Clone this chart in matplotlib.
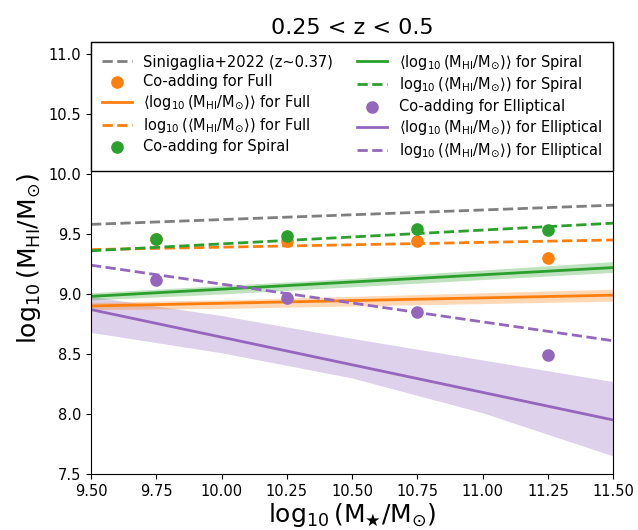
import matplotlib
matplotlib.use("Agg")
import matplotlib.pyplot as plt
import numpy as np

# stellar mass bins (co-adding points)
mass_bins = [9.75, 10.25, 10.75, 11.25]
coadd_full = [9.46, 9.44, 9.44, 9.30]
coadd_spiral = [9.46, 9.48, 9.54, 9.53]
coadd_ellip = [9.12, 8.97, 8.85, 8.49]

# scaling relations, evaluated at the ends of the range
line_x = [9.5, 11.5]
sinigaglia = [9.58, 9.74]
mean_log_full = [8.90, 8.99]
log_mean_full = [9.37, 9.45]
mean_log_spiral = [8.98, 9.22]
log_mean_spiral = [9.36, 9.59]
mean_log_ellip = [8.87, 7.95]
log_mean_ellip = [9.24, 8.61]

# uncertainty bands
band_x = [9.5, 10.0, 10.5, 11.0, 11.5]
full_lo = [8.87, 8.88, 8.90, 8.92, 8.94]
full_hi = [8.93, 8.95, 8.98, 9.01, 9.04]
spiral_lo = [8.95, 9.00, 9.06, 9.12, 9.18]
spiral_hi = [9.01, 9.07, 9.13, 9.20, 9.27]
ellip_lo = [8.68, 8.51, 8.30, 8.01, 7.65]
ellip_hi = [8.98, 8.82, 8.63, 8.45, 8.27]

c_full, c_spiral, c_ellip, c_sini = "#ff7f0e", "#2ca02c", "#9467bd", "#7f7f7f"
M = r"\mathrm{M_{HI}/M_{\odot}}"

fig = plt.figure(figsize=(6.38, 5.30), dpi=100)
ax = fig.add_axes([0.1426, 0.1057, 0.8185, 0.8151])

ax.fill_between(band_x, ellip_lo, ellip_hi, color=c_ellip, alpha=0.3, lw=0)
ax.fill_between(band_x, full_lo, full_hi, color=c_full, alpha=0.3, lw=0)
ax.fill_between(band_x, spiral_lo, spiral_hi, color=c_spiral, alpha=0.3, lw=0)

ax.plot(line_x, sinigaglia, "--", color=c_sini, lw=2, label="Sinigaglia+2022 (z~0.37)")
ax.scatter(mass_bins, coadd_full, s=65, color=c_full, zorder=3, label="Co-adding for Full")
ax.plot(line_x, mean_log_full, "-", color=c_full, lw=2,
        label=r"$\langle\log_{10}(" + M + r")\rangle$ for Full")
ax.plot(line_x, log_mean_full, "--", color=c_full, lw=2,
        label=r"$\log_{10}(\langle " + M + r"\rangle)$ for Full")
ax.scatter(mass_bins, coadd_spiral, s=65, color=c_spiral, zorder=3, label="Co-adding for Spiral")
ax.plot(line_x, mean_log_spiral, "-", color=c_spiral, lw=2,
        label=r"$\langle\log_{10}(" + M + r")\rangle$ for Spiral")
ax.plot(line_x, log_mean_spiral, "--", color=c_spiral, lw=2,
        label=r"$\log_{10}(\langle " + M + r"\rangle)$ for Spiral")
ax.scatter(mass_bins, coadd_ellip, s=65, color=c_ellip, zorder=3, label="Co-adding for Elliptical")
ax.plot(line_x, mean_log_ellip, "-", color=c_ellip, lw=2,
        label=r"$\langle\log_{10}(" + M + r")\rangle$ for Elliptical")
ax.plot(line_x, log_mean_ellip, "--", color=c_ellip, lw=2,
        label=r"$\log_{10}(\langle " + M + r"\rangle)$ for Elliptical")

ax.set_xlim(9.5, 11.5)
ax.set_ylim(7.5, 11.1)
ax.set_xticks(np.arange(9.5, 11.51, 0.25))
ax.set_xticklabels(["%.2f" % v for v in np.arange(9.5, 11.51, 0.25)])
ax.set_yticks(np.arange(7.5, 11.01, 0.5))
ax.tick_params(labelsize=10.5)

ax.set_title("0.25 < z < 0.5", fontsize=16)
ax.set_xlabel(r"$\log_{10}(\mathrm{M_{\bigstar}/M_{\odot}})$", fontsize=18, labelpad=2)
ax.set_ylabel(r"$\log_{10}(" + M + r")$", fontsize=18)

ax.legend(ncol=2, loc="upper left", bbox_to_anchor=(0, 0, 1, 1), mode="expand",
          borderaxespad=0, fontsize=10.5, fancybox=False, edgecolor="black",
          framealpha=1, handlelength=2.05, labelspacing=0.3, borderpad=0.75)

fig.savefig("out.png", dpi=100)
